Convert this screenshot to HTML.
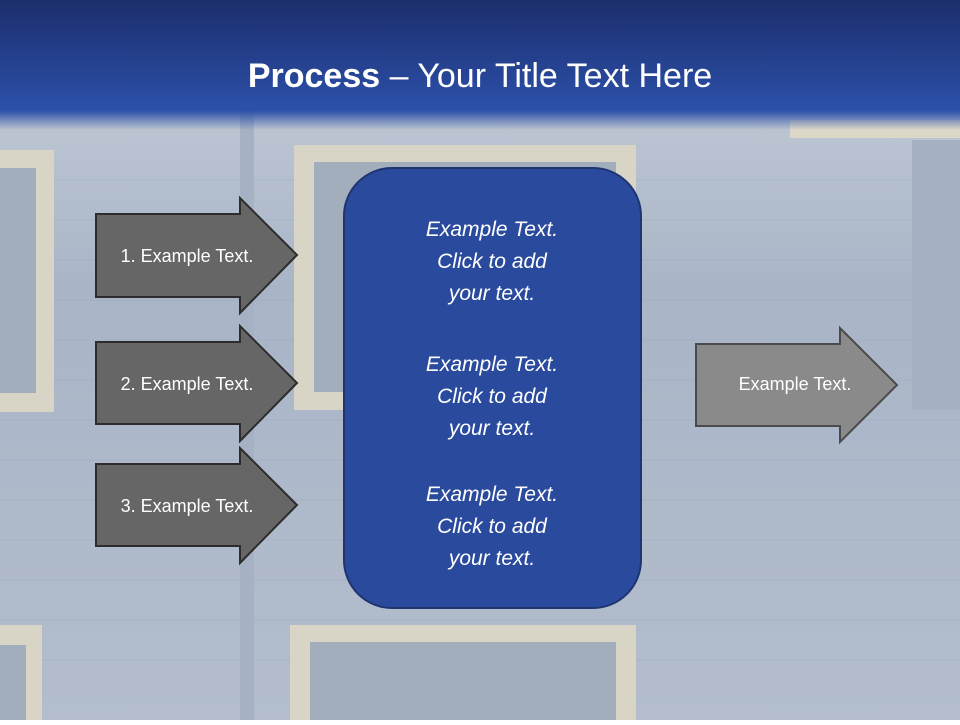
<!DOCTYPE html>
<html><head><style>
body{margin:0;width:960px;height:720px;overflow:hidden;font-family:"Liberation Sans",sans-serif}
</style></head><body>
<svg width="960" height="720" viewBox="0 0 960 720" xmlns="http://www.w3.org/2000/svg">
<defs>
<linearGradient id="hdr" x1="0" y1="0" x2="0" y2="1">
<stop offset="0" stop-color="#1c2e6c"/><stop offset="0.8" stop-color="#2b4ea6"/><stop offset="0.85" stop-color="#2c50a8"/><stop offset="1" stop-color="#2c50a8" stop-opacity="0"/>
</linearGradient>
<linearGradient id="bg" x1="0" y1="0" x2="0" y2="1">
<stop offset="0" stop-color="#c9d0da"/><stop offset="0.4" stop-color="#a9b5c7"/><stop offset="1" stop-color="#b3bdcd"/>
</linearGradient>
</defs>
<rect width="960" height="720" fill="url(#bg)"/>
<g stroke="#9eabbd" stroke-width="1" opacity="0.5">
<line x1="0" y1="180" x2="960" y2="180"/><line x1="0" y1="220" x2="960" y2="220"/><line x1="0" y1="260" x2="960" y2="260"/><line x1="0" y1="300" x2="960" y2="300"/><line x1="0" y1="340" x2="960" y2="340"/><line x1="0" y1="380" x2="960" y2="380"/><line x1="0" y1="420" x2="960" y2="420"/><line x1="0" y1="460" x2="960" y2="460"/><line x1="0" y1="500" x2="960" y2="500"/><line x1="0" y1="540" x2="960" y2="540"/><line x1="0" y1="580" x2="960" y2="580"/><line x1="0" y1="620" x2="960" y2="620"/><line x1="0" y1="660" x2="960" y2="660"/>
</g>
<g fill="#d8d5c6">
<rect x="0" y="150" width="54" height="262"/>
<rect x="294" y="145" width="342" height="265"/>
<rect x="290" y="625" width="346" height="95"/>
<rect x="0" y="625" width="42" height="95"/>
</g>
<g fill="#a3aebd">
<rect x="0" y="168" width="36" height="225"/>
<rect x="314" y="162" width="302" height="230"/>
<rect x="310" y="642" width="306" height="78"/>
<rect x="0" y="645" width="26" height="75"/>
</g>
<rect x="790" y="120" width="170" height="18" fill="#dcd8c8"/>
<rect x="912" y="140" width="48" height="270" fill="#a5b0c2"/>
<rect x="240" y="110" width="14" height="610" fill="#a6b1c3"/>
<rect x="0" y="0" width="960" height="130" fill="url(#hdr)"/>
<text x="480" y="87" text-anchor="middle" fill="#fff" font-family="Liberation Sans" font-size="34"><tspan font-weight="bold">Process</tspan> – Your Title Text Here</text>
<g fill="#666" stroke="#2c2c2c" stroke-width="2">
<polygon points="96,214 240,214 240,198 297,255 240,313 240,297 96,297"/>
<polygon points="96,342 240,342 240,326 297,383 240,441 240,424 96,424"/>
<polygon points="96,464 240,464 240,448 297,505 240,563 240,546 96,546"/>
</g>
<polygon points="696,344 840,344 840,328 897,385 840,442 840,426 696,426" fill="#8a8a8a" stroke="#4a4a4a" stroke-width="2"/>
<g fill="#fff" font-size="18" text-anchor="middle">
<text x="187" y="262">1. Example Text.</text>
<text x="187" y="390">2. Example Text.</text>
<text x="187" y="512">3. Example Text.</text>
<text x="795" y="390">Example Text.</text>
</g>
<rect x="344" y="168" width="297" height="440" rx="48" fill="#2a4a9e" stroke="#1e3570" stroke-width="2"/>
<g fill="#fff" font-size="21" font-style="italic" text-anchor="middle">
<text x="492" y="236">Example Text.</text><text x="492" y="268">Click  to add</text><text x="492" y="300">your text.</text>
<text x="492" y="371">Example Text.</text><text x="492" y="403">Click  to add</text><text x="492" y="435">your text.</text>
<text x="492" y="501">Example Text.</text><text x="492" y="533">Click  to add</text><text x="492" y="565">your text.</text>
</g>
</svg>
</body></html>
